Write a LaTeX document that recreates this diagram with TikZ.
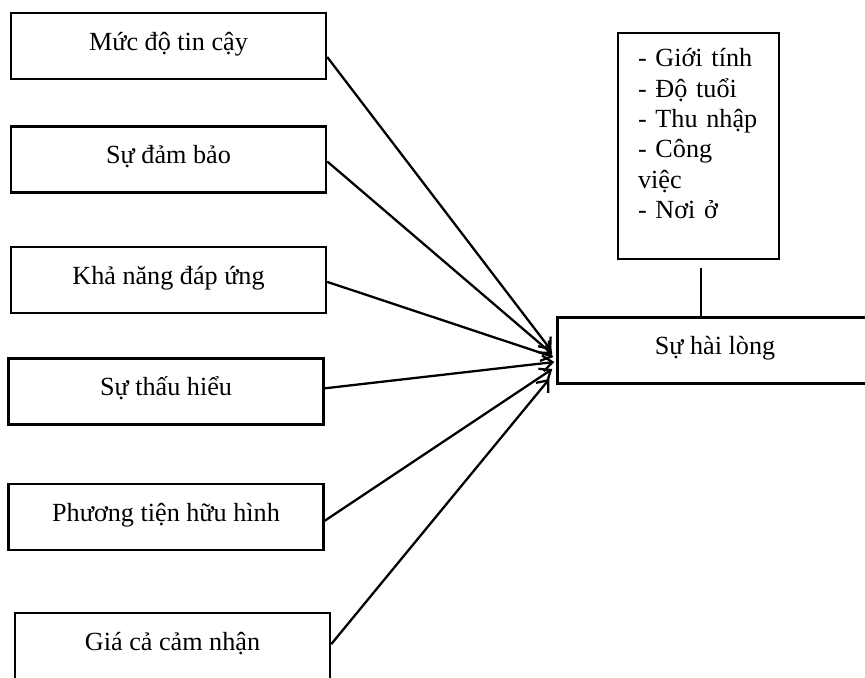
\documentclass[tikz,border=0pt]{standalone}
\usepackage{fontspec}
\setmainfont{Liberation Serif}
\usetikzlibrary{arrows.meta, positioning}

\begin{document}
\begin{tikzpicture}[
    x=0.02cm, y=-0.02cm,
    box/.style={rectangle, draw, line width=1.4pt, minimum width=6.3cm, minimum height=1.32cm, text height=9pt, text depth=4pt, font=\fontsize{14.9}{17.3}\selectfont},
    arrow/.style={-{Straight Barb[length=5.5pt, width=9pt]}, line width=1.3pt}
]
\useasboundingbox (0,0) rectangle (865,677);
\clip (0,0) rectangle (865,677);

\node[box] (tincay) at (168.5,46) {Mức độ tin cậy};
\node[box, below=0.9cm of tincay] (dambao) {Sự đảm bảo};
\node[box, below=1.04cm of dambao] (dapung) {Khả năng đáp ứng};
\node[box, below=0.86cm of dapung, xshift=-0.05cm] (thauhieu) {Sự thấu hiểu};
\node[box, below=1.14cm of thauhieu] (huuhinh) {Phương tiện hữu hình};
\node[box, below=1.22cm of huuhinh, xshift=0.13cm] (giaca) {Giá cả cảm nhận};

\node[box] (hailong) at (715,350.5) {Sự hài lòng};
\node[draw, line width=0.8pt, minimum width=3.22cm, minimum height=4.52cm, text width=2.42cm, inner xsep=0.4cm, align=left, font=\fontsize{14.9}{17.3}\selectfont] (nhankhau) at (698.5,146)
  {- Giới tính\\- Độ tuổi\\- Thu nhập\\- Công\\việc\\- Nơi ở\rule[-0.5cm]{0pt}{0pt}};

% link from the demographic box
\coordinate (gap) at (701,268);
\draw[line width=1.2pt] (gap) -- (gap |- hailong.north);

\draw[arrow] ([yshift=-0.22cm]tincay.east) -- ([xshift=-0.1cm]hailong.west);
\draw[arrow] ([yshift=-0.04cm]dambao.east) -- ([xshift=-0.08cm, yshift=-0.07cm]hailong.west);
\draw[arrow] ([yshift=-0.04cm]dapung.east) -- ([xshift=-0.06cm, yshift=-0.13cm]hailong.west);
\draw[arrow] ([yshift=0.06cm]thauhieu.east) -- ([xshift=-0.04cm, yshift=-0.23cm]hailong.west);
\draw[arrow] ([yshift=-0.08cm]huuhinh.east) -- ([xshift=-0.08cm, yshift=-0.37cm]hailong.west);
\draw[arrow] ([yshift=0.04cm]giaca.east) -- ([xshift=-0.14cm, yshift=-0.57cm]hailong.west);
\end{tikzpicture}
\end{document}
